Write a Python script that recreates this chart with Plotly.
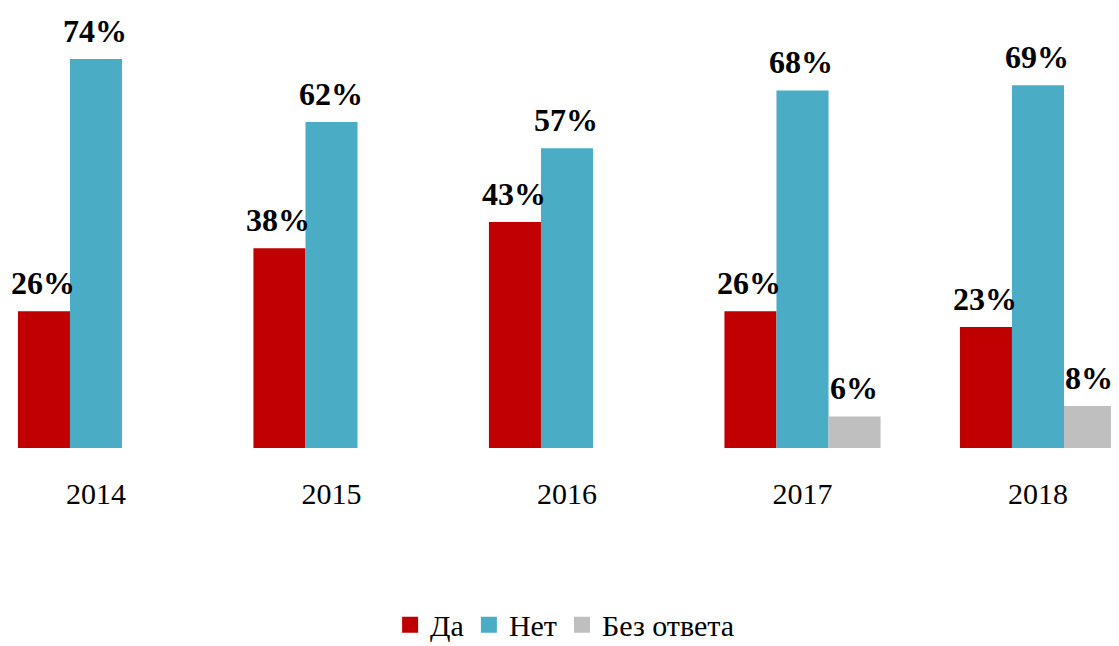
import plotly.graph_objects as go

years = ["2014", "2015", "2016", "2017", "2018"]
da = [26, 38, 43, 26, 23]
net = [74, 62, 57, 68, 69]
bez_otveta = [None, None, None, 6, 8]

series_names = ["Да", "Нет", "Без ответа"]
series_colors = ["#C00000", "#4BACC6", "#BFBFBF"]

FONT = "Liberation Serif, Times New Roman, serif"
# page body has an 8px margin, so the figure is shifted by 8px in the window
W, H = 1111, 638
margin = dict(l=0, r=0, t=12, b=198, autoexpand=False)
bargap = 0.337
x_range = [-0.3737, 4.344]

fig = go.Figure()
for name, vals, color in zip(series_names, [da, net, bez_otveta], series_colors):
    fig.add_trace(go.Bar(x=years, y=vals, name=name, legendgroup=name, showlegend=False,
                         marker=dict(color=color, line=dict(width=0))))
# legend entries with bigger square markers
for name, color in zip(series_names, series_colors):
    fig.add_trace(go.Scatter(x=[None], y=[None], mode="markers", name=name, legendgroup=name,
                             marker=dict(symbol="square", size=16, color=color)))

# data labels above each bar
cat_px = (W - margin["l"] - margin["r"]) / (x_range[1] - x_range[0])
bar_px = cat_px * (1 - bargap) / 3
annotations = []
for i, vals in enumerate([da, net, bez_otveta]):
    for j, v in enumerate(vals):
        if v is None:
            continue
        annotations.append(dict(
            x=j, y=v, xref="x", yref="y", text=f"<b>{v}%</b>", showarrow=False,
            xanchor="center", yanchor="bottom", xshift=(i - 1) * bar_px - 1, yshift=8,
            font=dict(family=FONT, size=32, color="black"),
        ))

fig.update_layout(
    width=W, height=H, margin=margin,
    barmode="group", bargap=bargap, bargroupgap=0,
    plot_bgcolor="white", paper_bgcolor="white",
    font=dict(family=FONT, color="black"),
    annotations=annotations,
    xaxis=dict(type="category", range=x_range, showgrid=False, showline=False, zeroline=False,
               ticks="", tickfont=dict(size=30), ticklabelstandoff=25, automargin=False),
    yaxis=dict(range=[0, 81.4], visible=False),
    legend=dict(orientation="h", x=0.501, xanchor="center", y=-0.413, yanchor="middle",
                font=dict(size=30), itemwidth=30, traceorder="normal"),
)

fig.write_html("out.html")
